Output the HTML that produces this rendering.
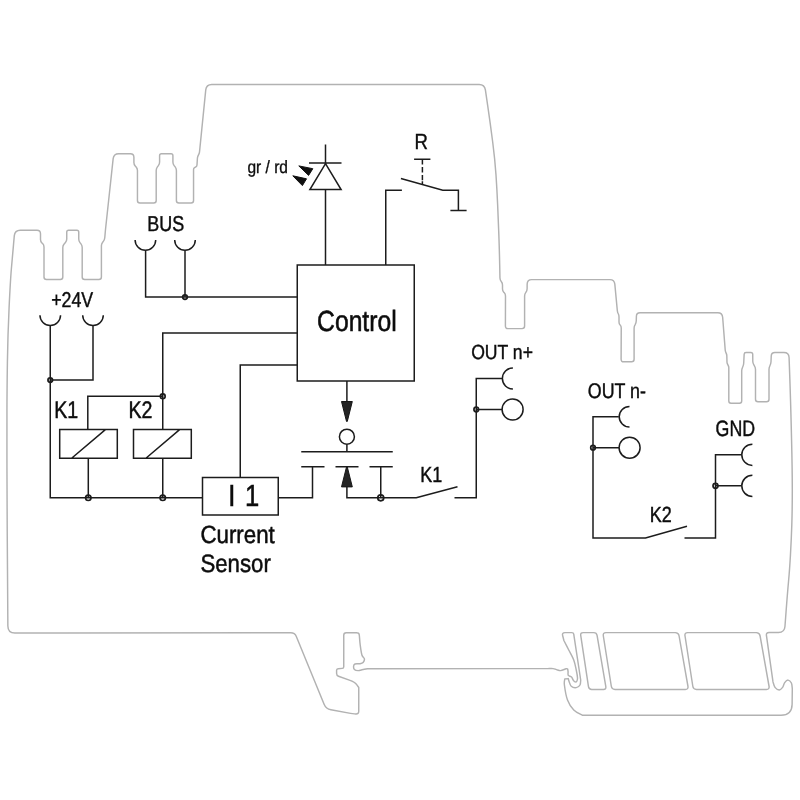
<!DOCTYPE html>
<html lang="en">
<head>
<meta charset="utf-8">
<title>Circuit diagram</title>
<style>
html,body{margin:0;padding:0;background:#fff}
svg{display:block}
.o{fill:none;stroke:#b2b2b2;stroke-width:1.45;stroke-linejoin:round}
.w{fill:none;stroke:#1c1c1c;stroke-width:1.5;stroke-linecap:butt;stroke-linejoin:miter}
.f{fill:#242424;stroke:#161616;stroke-width:1;stroke-linejoin:miter}
text{font-family:"Liberation Sans",sans-serif;fill:#0c0c0c;stroke:#0c0c0c;text-rendering:geometricPrecision}
svg{will-change:transform}
</style>
</head>
<body>
<svg width="800" height="800" viewBox="0 0 800 800">
<rect width="800" height="800" fill="#fff"/>
<g class="o">
<path d="M60,633 L14.9,633.04 Q7.9,633.05 7.86,626.05 L7.8,616.52 Q7.7,600 7.49,570 L7.21,530 Q7,500 6.96,470 L6.94,460 Q6.9,430 6.95,410 L6.95,410 Q7,390 7.4,362.5 L7.4,362.5 Q7.8,335 9.1,307.5 L9.1,307.5 Q10.4,280 11.4,268.5 L11.4,268.5 Q12.4,257 13.6,243.6 L14.31,235.68 Q14.8,230.2 20.3,230.2 L37,230.2 Q40.5,230.2 40.5,233.7 L40.5,239.5 Q40.5,241.5 41.91,242.91 L42.59,243.59 Q44,245 44,247 L44,277 Q44,279.5 46.5,279.5 L60.3,279.5 Q62.8,279.5 62.8,277 L62.8,247.5 Q62.8,245.5 64.12,244 L65.43,242.5 Q66.75,241 66.75,239 L66.75,232 Q66.75,230.2 68.55,230.2 L76.95,230.2 Q78.75,230.2 78.75,232 L78.75,239 Q78.75,241 79.97,242.59 L80.98,243.91 Q82.2,245.5 82.2,247.5 L82.2,277 Q82.2,279.5 84.7,279.5 L98.9,279.5 Q101.4,279.5 101.4,277 L101.4,245.8 Q101.4,243.8 102.65,242.24 L103.35,241.36 Q104.6,239.8 104.77,237.81 L105.23,232.49 Q105.4,230.5 105.61,228.51 L113.16,158.67 Q113.7,153.7 118.7,153.7 L130.4,153.7 Q133.9,153.7 133.9,157.2 L133.9,162.5 Q133.9,164.5 135.23,166 L136.12,167 Q137.45,168.5 137.45,170.5 L137.45,200.4 Q137.45,202.9 139.95,202.9 L153.7,202.9 Q156.2,202.9 156.2,200.4 L156.2,170.5 Q156.2,168.5 157.41,166.9 L158.39,165.6 Q159.6,164 159.6,162 L159.6,155.5 Q159.6,153.7 161.4,153.7 L171.1,153.7 Q172.9,153.7 172.9,155.5 L172.9,162 Q172.9,164 174.13,165.58 L175.17,166.92 Q176.4,168.5 176.4,170.5 L176.4,200.4 Q176.4,202.9 178.9,202.9 L191.05,202.9 Q193.55,202.9 193.55,200.4 L193.55,169.4 Q193.55,168.2 194.58,167.58 L195.87,166.82 Q196.9,166.2 196.98,165 L197.42,158.2 Q197.5,157 198.03,155.92 L198.87,154.18 Q199.4,153.1 199.52,151.91 L205.75,89.87 Q206.3,84.4 211.8,84.4 L479.1,84.4 Q484.6,84.4 485.39,89.84 L487.62,105.21 Q490.5,125 492.75,142.5 L492.75,142.5 Q495,160 496,175 L496,175 Q497,190 497.65,205 L497.65,205 Q498.3,220 498.85,235 L498.85,235 Q499.4,250 499.7,265 L499.96,278 Q500,280 501.25,281.5 L501.25,281.5 Q502.5,283 502.5,285 L502.5,289 Q502.5,291 503.91,292.41 L504.09,292.59 Q505.5,294 505.49,296 L505.41,326.1 Q505.4,328.6 507.9,328.6 L522.1,328.6 Q524.6,328.6 524.6,326.1 L524.6,296 Q524.6,294 525.83,292.42 L525.87,292.38 Q527.1,290.8 527.12,288.8 L527.16,284.1 Q527.2,279.6 531.7,279.6 L609.9,279.6 Q614.4,279.6 614.82,284.08 L617.31,310.51 Q617.5,312.5 618.25,313.75 L618.25,313.75 Q619,315 619,317 L619,322 Q619,324 620.12,325 L620.12,325 Q621.25,326 621.24,328 L621.11,359.3 Q621.1,361.8 623.6,361.8 L631.6,361.8 Q634.1,361.8 634.1,359.3 L634.1,328.3 Q634.1,326.3 635.13,324.59 L635.17,324.51 Q636.2,322.8 636.26,320.8 L636.4,316.2 Q636.5,312.7 640,312.7 L717.8,312.7 Q722.3,312.7 722.65,317.19 L725.22,350 Q725.3,351 725.67,351.93 L726.43,353.87 Q726.8,354.8 726.82,355.8 L726.98,362 Q727,363 727.43,363.9 L728.37,365.9 Q728.8,366.8 728.8,367.8 L728.8,401 Q728.8,403.2 731,403.2 L739.5,403.2 Q741.7,403.2 741.7,401 L741.7,371 Q741.7,369 742.59,367.21 L742.71,366.99 Q743.6,365.2 743.7,363.2 L744.16,354.3 Q744.25,352.5 746.05,352.5 L750.9,352.5 Q752.7,352.5 752.72,354.3 L752.78,361.3 Q752.8,363.3 753.88,364.98 L754.42,365.82 Q755.5,367.5 755.5,369.5 L755.5,399.3 Q755.5,401.8 758,401.8 L766.5,401.8 Q769,401.8 769,399.3 L769,369.5 Q769,367.5 769.9,365.72 L770,365.53 Q770.9,363.75 770.99,361.75 L771.24,356 Q771.4,352.5 774.9,352.5 L783.9,352.5 Q788.9,352.5 789.08,357.5 L789.75,376.25 Q790.6,400 791.33,429.99 L791.57,440.01 Q792.3,470 792.3,490 L792.3,490 Q792.3,510 791.8,525 L791.8,525 Q791.3,540 790.45,555 L790.45,555 Q789.6,570 788.55,581.25 L788.55,581.25 Q787.5,592.5 786,612.44 L784.95,626.52 Q784.5,632.5 778.5,632.5 L769,632.5 Q766,632.5 766.42,635.47 L773,681.9 L773,681.9 C773.33,682.82 773.97,686.07 775,687.4 C776.03,688.73 777.93,689.9 779.2,689.9 C780.47,689.9 781.68,688.62 782.6,687.4 C783.52,686.18 783.78,683.82 784.7,682.6 C785.62,681.38 786.98,680.03 788.1,680.1 C789.22,680.17 790.7,681.55 791.4,683 C792.1,684.45 792.15,687.83 792.3,688.8 L792.3,688.8 L792.12,704.3 Q792,715.3 781,715.3 L582.5,715.3 L582.5,715.3 C581.04,714.42 576.25,712.55 573.75,710 C571.25,707.45 569.06,704.17 567.5,700 C565.94,695.83 564.85,688.52 564.4,685 C563.95,681.48 564.73,679.92 564.8,678.9 L568.3,678.6 L568.3,678.6 C568.42,679.04 568.51,679.98 569,681.25 C569.49,682.52 570.04,685.19 571.25,686.25 C572.46,687.31 574.79,687.81 576.25,687.6 C577.71,687.39 579.26,686.27 580,685 C580.74,683.73 580.58,680.83 580.7,680 L580.7,680 L573.74,634.18 Q573.5,632.6 571.9,632.6 L564.9,632.6 Q561.9,632.6 562.64,635.51 L563.9,640.5 L563.9,640.5 C564.71,642.08 567.11,646.75 568.75,650 C570.39,653.25 572.5,656.67 573.75,660 C575,663.33 575.62,667 576.25,670 C576.88,673 577.44,676.07 577.5,678 C577.56,679.93 577.1,681 576.6,681.6 C576.1,682.2 575.08,681.87 574.5,681.6 C573.92,681.33 573.6,680.77 573.1,680 C572.6,679.23 572.3,677.78 571.5,677 C570.7,676.22 568.87,676.13 568.3,675.3 C567.73,674.47 568.13,672.55 568.1,672 L568.1,672 C568.02,671.5 567.95,669.53 567.6,669 C567.25,668.47 567.17,668.53 566,668.8 C564.83,669.07 562.18,670.47 560.6,670.6 C559.02,670.73 557.75,669.93 556.5,669.6 C555.25,669.27 554.52,668.77 553.1,668.6 C551.68,668.43 548.85,668.6 548,668.6 L367.5,668.75 L367.5,668.75 C366.58,668.92 363.57,669.49 362,669.8 C360.43,670.11 359.37,670.67 358.1,670.6 C356.83,670.53 355.15,670.12 354.4,669.4 C353.65,668.67 353.5,667.15 353.6,666.25 C353.7,665.35 353.93,664.42 355,664 C356.07,663.58 358.65,664 360,663.75 C361.35,663.5 362.37,663.33 363.1,662.5 C363.83,661.67 364.6,660 364.4,658.75 C364.2,657.5 362.6,657.29 361.9,655 C361.2,652.71 360.62,648.17 360.2,645 C359.78,641.83 359.53,637.5 359.4,636 L359.4,636 L359.15,634.38 Q358.9,632.75 356.4,632.75 L346.25,632.75 Q343.75,632.75 343.75,635.25 L343.75,666.8 Q343.75,668.3 342.25,668.4 L338.1,668.7 Q336.6,668.8 336.6,670.3 L336.6,673.6 Q336.6,675.6 338.48,676.28 L349.35,680.17 Q355,682.2 356.88,684.85 L358.75,687.5 L358.75,711.2 Q358.75,714.2 355.76,713.98 L354.49,713.89 Q352.5,713.75 350.53,713.39 L330.92,709.8 Q326,708.9 324.1,704.27 L296.32,636.5 Q294.8,632.8 290.8,632.8 L60,633 Z"/>
<path d="M580.72,635.37 Q580.3,632.6 583.1,632.6 L593.8,632.6 Q596.6,632.6 597.07,635.36 L605.83,686.64 Q606.3,689.4 603.5,689.4 L591.7,689.4 Q588.9,689.4 588.48,686.63 Z"/>
<path d="M603.3,635.76 Q602.8,632.6 606,632.6 L675.3,632.6 Q678.5,632.6 679.05,635.75 L687.95,686.25 Q688.5,689.4 685.3,689.4 L615,689.4 Q611.8,689.4 611.3,686.24 Z"/>
<path d="M684.99,635.76 Q684.5,632.6 687.7,632.6 L756.3,632.6 Q759.5,632.6 760.06,635.75 L769.04,686.25 Q769.6,689.4 766.4,689.4 L696.5,689.4 Q693.3,689.4 692.81,686.24 Z"/>
</g>
<g class="w">
<path d="M39.95,315.2 A10.3,10.3 0 0 0 60.55,315.2"/>
<path d="M82.7,315.2 A10.3,10.3 0 0 0 103.3,315.2"/>
<path d="M50.25,325.5 V497.8 H202.5"/>
<path d="M93.0,325.5 V380.1 H50.25"/>
<path d="M135.1,240 A10.3,10.3 0 0 0 155.7,240"/>
<path d="M174.7,240 A10.3,10.3 0 0 0 195.3,240"/>
<path d="M145.6,250.7 V297.1 H297.25"/>
<path d="M185,250.7 V297.1"/>
<path d="M297.25,333 H162.75 V429.6"/>
<path d="M162.75,396.3 H87.8 V429.6"/>
<path d="M59.7,429.6 H117.3 V458.2 H59.7 Z M71.6,458.2 L105.4,429.6"/>
<path d="M133.5,429.6 H191.3 V458.2 H133.5 Z M145.9,458.2 L179.6,429.6"/>
<path d="M88.3,458.2 V497.8 M162.75,458.2 V497.8"/>
<path d="M297.25,365 H240.25 V477.5"/>
<path d="M202.5,477.5 H278.25 V515 H202.5 Z"/>
<path d="M278.25,497.8 H312.5 V466.7"/>
<path d="M297.25,264.9 H414.25 V381 H297.25 Z"/>
<path d="M325.5,144.5 V163 M309,162.9 H341.5 M325.5,163.6 L341.1,189.5 H309.9 Z M325.5,189.5 V264.9"/>
<path d="M385.75,264.9 V190.2 H401.9 M400.9,178.5 L442.8,190.2 H458.4 V210.6 M450.4,210.6 H466.6 M414.1,159.2 H430.4"/>
<path d="M346.9,381 V402"/>
<path d="M346.9,444.4 V451.7 M301.25,451.7 H392.75"/>
<path d="M301.25,466.7 H324.5 M335.5,466.7 H358.5 M369.5,466.7 H392.75"/>
<path d="M346.9,486.5 V497.8 H416.25 L457.5,486.75 M380.75,466.7 V497.8"/>
<path d="M454.5,497.8 H476.25 V378.5 H502.3"/>
<path d="M512.9,368 A10.5,10.5 0 0 0 512.9,389"/>
<path d="M476.25,409.5 H502"/>
<path d="M618.8,416.75 H593 V538 H645.5 L687,526.25 M593,447.7 H619"/>
<path d="M629.5,406.45 A10.3,10.3 0 0 0 629.5,427.05"/>
<path d="M684.5,538 H715.5 V454.8 H741.6 M715.5,485.85 H741.6"/>
<path d="M752.4,444.2 A10.6,10.6 0 0 0 752.4,465.4"/>
<path d="M752.4,475.25 A10.6,10.6 0 0 0 752.4,496.45"/>
<circle cx="346.9" cy="436.7" r="7.5"/>
<circle cx="512.6" cy="409.5" r="10.5"/>
<circle cx="629.6" cy="447.7" r="10.5"/>
<circle cx="50.25" cy="380.1" r="2.3" stroke-width="1.7"/>
<circle cx="185" cy="297.1" r="2.3" stroke-width="1.7"/>
<circle cx="162.75" cy="396.3" r="2.4" stroke-width="1.7"/>
<circle cx="88.3" cy="497.8" r="2.7" stroke-width="1.7"/>
<circle cx="162.75" cy="497.8" r="2.7" stroke-width="1.7"/>
<circle cx="380.75" cy="497.8" r="3.0" stroke-width="1.7"/>
<circle cx="476.25" cy="409.5" r="2.3" stroke-width="1.7"/>
<circle cx="593" cy="447.7" r="2.3" stroke-width="1.7"/>
<circle cx="715.5" cy="485.85" r="2.5" stroke-width="1.7"/>
<path d="M422.4,159.3 V184.4" stroke-dasharray="5.3 2.5 5.3 2.5 5.3 1 9"/>
</g>
<g class="f">
<path d="M341.5,401.5 H352.3 L347.3,421.4 H346.5 Z"/>
<path d="M346.5,467 H347.3 L352.3,486.9 H341.5 Z"/>
<path d="M298.8,165.9 L312.8,168.7 L308.6,175.4 Z" stroke-linejoin="round" fill="#101010" stroke="#101010"/>
<path d="M292.8,175.8 L306.5,178.8 L302.4,185.6 Z" stroke-linejoin="round" fill="#101010" stroke="#101010"/>
</g>
<g>
<text transform="translate(51.14,307.41) scale(0.829,1)" font-size="21.45" stroke-width="0.43">+24V</text>
<text transform="translate(147.22,231.38) scale(0.837,1)" font-size="21.48" stroke-width="0.43">BUS</text>
<text transform="translate(54.28,417.95) scale(0.815,1)" font-size="24.06" stroke-width="0.48">K1</text>
<text transform="translate(128.43,417.8) scale(0.815,1)" font-size="24.06" stroke-width="0.48">K2</text>
<text transform="translate(247.49,173.12) scale(0.869,1)" font-size="17.83" stroke-width="0.36">gr / rd</text>
<text transform="translate(414.62,148.59) scale(0.851,1)" font-size="21.86" stroke-width="0.44">R</text>
<text transform="translate(317.09,331.12) scale(0.847,1)" font-size="29.15" stroke-width="0.58">Control</text>
<text transform="translate(228.3,506.15) scale(0.84,1)" font-size="30.51" stroke-width="0.61">I <tspan dx="3">1</tspan></text>
<text transform="translate(200.41,543.21) scale(0.897,1)" font-size="24.89" stroke-width="0.5">Current</text>
<text transform="translate(200.41,572.3) scale(0.883,1)" font-size="25.16" stroke-width="0.5">Sensor</text>
<text transform="translate(420.36,481.82) scale(0.819,1)" font-size="21.95" stroke-width="0.44">K1</text>
<text transform="translate(471.15,359.31) scale(0.861,1)" font-size="20.46" stroke-width="0.41">OUT n+</text>
<text transform="translate(587.84,397.54) scale(0.844,1)" font-size="21.14" stroke-width="0.42">OUT n-</text>
<text transform="translate(715.59,435.86) scale(0.8,1)" font-size="22.24" stroke-width="0.44">GND</text>
<text transform="translate(649.86,522.32) scale(0.819,1)" font-size="21.95" stroke-width="0.44">K2</text>
</g>
</svg>
</body>
</html>
